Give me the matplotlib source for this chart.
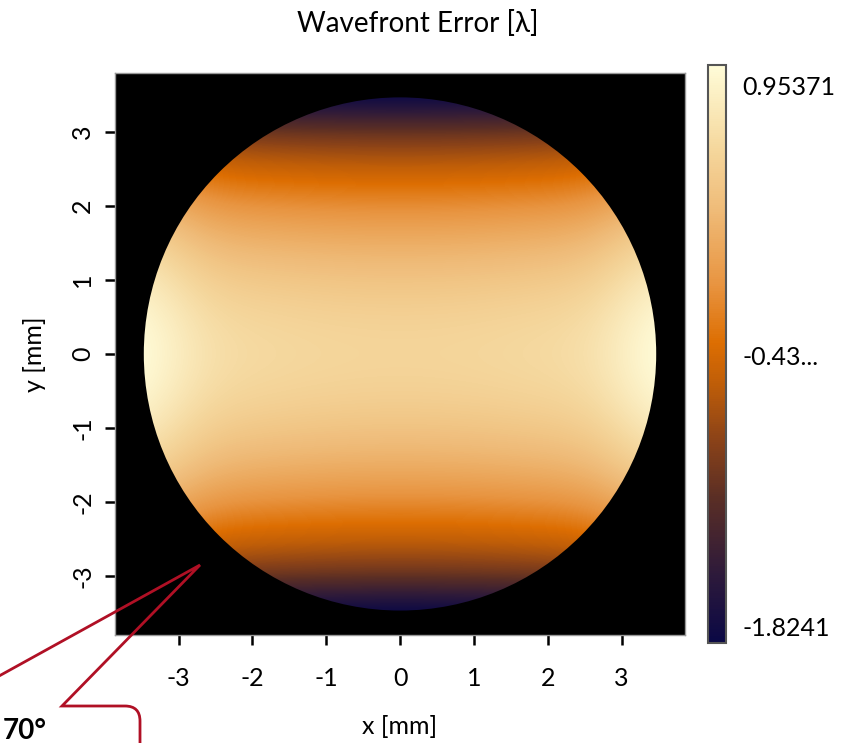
import numpy as np
import matplotlib
matplotlib.use('Agg')
import matplotlib.pyplot as plt
from matplotlib.colors import LinearSegmentedColormap
from matplotlib.patches import Circle, PathPatch
from matplotlib.path import Path

plt.rcParams['font.family'] = ['Lato', 'DejaVu Sans']
plt.rcParams['axes.unicode_minus'] = False

x_centers = [-3.5, -2.625, -1.75, -0.875, 0.0, 0.875, 1.75, 2.625, 3.5]
y_centers = [3.5, 3.0, 2.5, 2.0, 1.5, 1.0, 0.5, 0.0, -0.5, -1.0, -1.5, -2.0, -2.5, -3.0, -3.5]
wavefront = [
    [-1.50, -1.85, -1.92, -1.94, -1.95, -1.94, -1.92, -1.85, -1.50],
    [-0.60, -0.92, -0.97, -0.99, -1.00, -0.99, -0.97, -0.92, -0.60],
    [-0.10, -0.46, -0.51, -0.54, -0.55, -0.54, -0.51, -0.46, -0.10],
    [0.30, -0.06, -0.11, -0.14, -0.15, -0.14, -0.11, -0.06, 0.30],
    [0.60, 0.23, 0.18, 0.15, 0.14, 0.15, 0.18, 0.23, 0.60],
    [0.82, 0.44, 0.39, 0.36, 0.35, 0.36, 0.39, 0.44, 0.82],
    [0.96, 0.58, 0.53, 0.50, 0.49, 0.50, 0.53, 0.58, 0.96],
    [1.02, 0.63, 0.58, 0.55, 0.54, 0.55, 0.58, 0.63, 1.02],
    [0.96, 0.58, 0.53, 0.50, 0.49, 0.50, 0.53, 0.58, 0.96],
    [0.82, 0.44, 0.39, 0.36, 0.35, 0.36, 0.39, 0.44, 0.82],
    [0.60, 0.23, 0.18, 0.15, 0.14, 0.15, 0.18, 0.23, 0.60],
    [0.30, -0.06, -0.11, -0.14, -0.15, -0.14, -0.11, -0.06, 0.30],
    [-0.10, -0.46, -0.51, -0.54, -0.55, -0.54, -0.51, -0.46, -0.10],
    [-0.60, -0.92, -0.97, -0.99, -1.00, -0.99, -0.97, -0.92, -0.60],
    [-1.50, -1.85, -1.92, -1.94, -1.95, -1.94, -1.92, -1.85, -1.50],
]
w_min = -1.8241
w_max = 0.95371
cbar_labels = ['0.95371', '-0.43...', '-1.8241']
pupil_radius = 3.47

# Mapa de color: azul marino -> marrón -> naranja -> crema
cmap = LinearSegmentedColormap.from_list('wfe', [
    (0.00, '#0a0845'),
    (0.12, '#2e1a3a'),
    (0.25, '#5a2e25'),
    (0.35, '#8a4218'),
    (0.45, '#c05e08'),
    (0.52, '#dd6e02'),
    (0.62, '#e89440'),
    (0.75, '#efbb78'),
    (0.86, '#f5d89e'),
    (1.00, '#fffcd8'),
])

fig = plt.figure(figsize=(8.57, 7.43), dpi=100)
ax = fig.add_axes([0.1342, 0.1454, 0.6651, 0.7564])
ax.set_facecolor('black')

dx = x_centers[1] - x_centers[0]
dy = y_centers[0] - y_centers[1]
extent = [x_centers[0] - dx / 2, x_centers[-1] + dx / 2,
          y_centers[-1] - dy / 2, y_centers[0] + dy / 2]
im = ax.imshow(np.array(wavefront), cmap=cmap, vmin=w_min, vmax=w_max,
               extent=extent, origin='upper', interpolation='bicubic', aspect='auto')
pupil = Circle((0, 0), pupil_radius, transform=ax.transData)
im.set_clip_path(pupil)

ax.set_xlim(-3.86, 3.86)
ax.set_ylim(-3.8, 3.8)
ax.set_xticks([-3, -2, -1, 0, 1, 2, 3])
ax.set_yticks([-3, -2, -1, 0, 1, 2, 3])
ax.tick_params(direction='out', length=7, width=1.8, labelsize=18)
ax.tick_params(axis='x', pad=16)
ax.tick_params(axis='y', pad=8)
for lab in ax.get_yticklabels():
    lab.set_rotation(90)
    lab.set_va('center')
for sp in ax.spines.values():
    sp.set_color('#999999')
    sp.set_linewidth(1)
ax.set_xlabel('x [mm]', fontsize=18, labelpad=18)
ax.set_ylabel('y [mm]', fontsize=18, labelpad=18)

fig.text(418 / 857, 1 - 24 / 743, 'Wavefront Error [λ]', ha='center', va='center', fontsize=20)

# Barra de color
cax = fig.add_axes([0.8261, 0.1346, 0.021, 0.778])
cb = fig.colorbar(im, cax=cax)
cb.outline.set_edgecolor('#555555')
cb.outline.set_linewidth(1.5)
span = w_max - w_min
cb.set_ticks([w_max - 0.035 * span, w_min + 0.497 * span, w_min + 0.028 * span])
cb.set_ticklabels(cbar_labels)
cb.ax.tick_params(length=0, labelsize=18, pad=12)

# Globo de anotación en rojo (cortado por el borde de la figura)
W, H = 857.0, 743.0
pts_px = [(-10, 681), (200, 565), (62, 706), (125, 706), (140, 706), (140, 721), (140, 760)]
codes = [Path.MOVETO, Path.LINETO, Path.LINETO, Path.LINETO, Path.CURVE3, Path.CURVE3, Path.LINETO]
verts = [(px / W, 1 - py / H) for px, py in pts_px]
callout = PathPatch(Path(verts, codes), transform=fig.transFigure, fill=False,
                    edgecolor='#b01025', linewidth=2, zorder=10, clip_on=False)
fig.add_artist(callout)
fig.text(3 / W, 1 - 739 / H, '70°', ha='left', va='baseline', fontsize=20,
         fontweight='bold', color='black')

fig.savefig('out.png', dpi=100)
